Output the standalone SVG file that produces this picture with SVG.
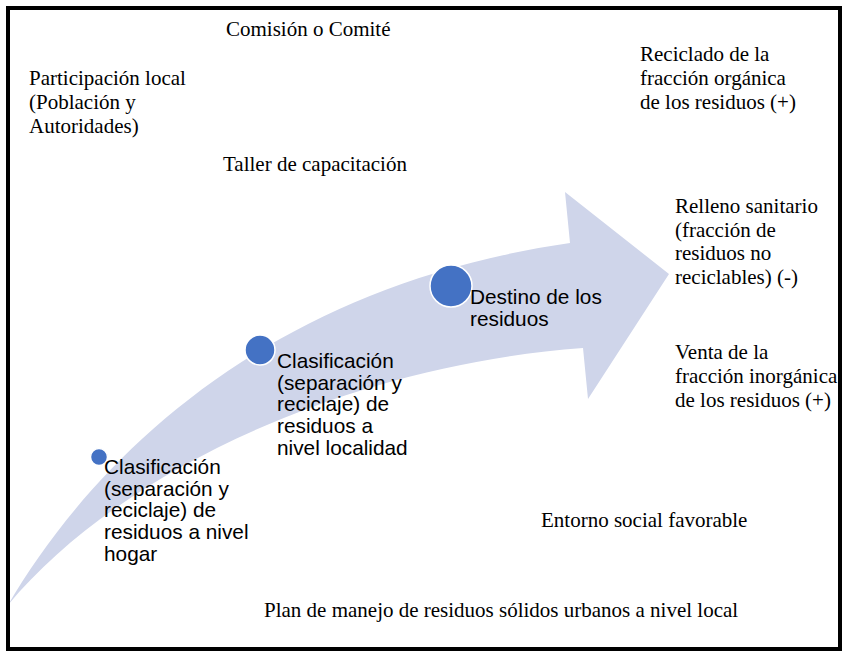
<svg xmlns="http://www.w3.org/2000/svg" width="850" height="659" viewBox="0 0 850 659">
<style>
.serif{font-family:"Liberation Serif","Times New Roman",serif;font-size:21px;fill:#000}
.sans{font-family:"Liberation Sans",Arial,sans-serif;font-size:20.8px;fill:#000}
.dot{fill:#4472C4;stroke:#fff;stroke-width:1.5}
</style>
<rect x="0" y="0" width="850" height="659" fill="#fff"/>
<g id="arrow">
<path d="M 8 605 C 90 465, 260 288, 570 243 L 565 192 L 669 274 L 588 399 L 583 348 C 350 365, 120 470, 8 605 Z" fill="#CFD5EA"/>
</g>
<g id="node-hogar">
<circle class="dot" cx="99" cy="457" r="8.5"/>
<text class="sans"><tspan x="104" y="474">Clasificación</tspan><tspan x="104" y="495.7">(separación y</tspan><tspan x="104" y="517.4">reciclaje) de</tspan><tspan x="104" y="539.1">residuos a nivel</tspan><tspan x="104" y="560.8">hogar</tspan></text>
</g>
<g id="node-localidad">
<circle class="dot" cx="260" cy="350" r="15"/>
<text class="sans"><tspan x="277" y="368">Clasificación</tspan><tspan x="277" y="389.7">(separación y</tspan><tspan x="277" y="411.4">reciclaje) de</tspan><tspan x="277" y="433.1">residuos a</tspan><tspan x="277" y="454.8">nivel localidad</tspan></text>
</g>
<g id="node-destino">
<circle class="dot" cx="451" cy="286" r="21"/>
<text class="sans"><tspan x="470" y="304">Destino de los</tspan><tspan x="470" y="325.7">residuos</tspan></text>
</g>
<g id="connectors"></g>
<g id="labels">
<text class="serif" x="226" y="36">Comisión o Comité</text>
<text class="serif"><tspan x="29" y="85">Participación local</tspan><tspan x="29" y="109">(Población y</tspan><tspan x="29" y="133">Autoridades)</tspan></text>
<text class="serif" x="223" y="171">Taller de capacitación</text>
<text class="serif"><tspan x="640" y="61">Reciclado de la</tspan><tspan x="640" y="85">fracción orgánica</tspan><tspan x="640" y="109">de los residuos (+)</tspan></text>
<text class="serif"><tspan x="675" y="213">Relleno sanitario</tspan><tspan x="675" y="236.5">(fracción de</tspan><tspan x="675" y="260">residuos no</tspan><tspan x="675" y="283.5">reciclables) (-)</tspan></text>
<text class="serif"><tspan x="675" y="359">Venta de la</tspan><tspan x="675" y="383">fracción inorgánica</tspan><tspan x="675" y="407">de los residuos (+)</tspan></text>
<text class="serif" x="541" y="527">Entorno social favorable</text>
<text class="serif" x="264" y="617">Plan de manejo de residuos sólidos urbanos a nivel local</text>
</g>
<rect x="8" y="8" width="832" height="641" fill="none" stroke="#000" stroke-width="4"/>
</svg>
